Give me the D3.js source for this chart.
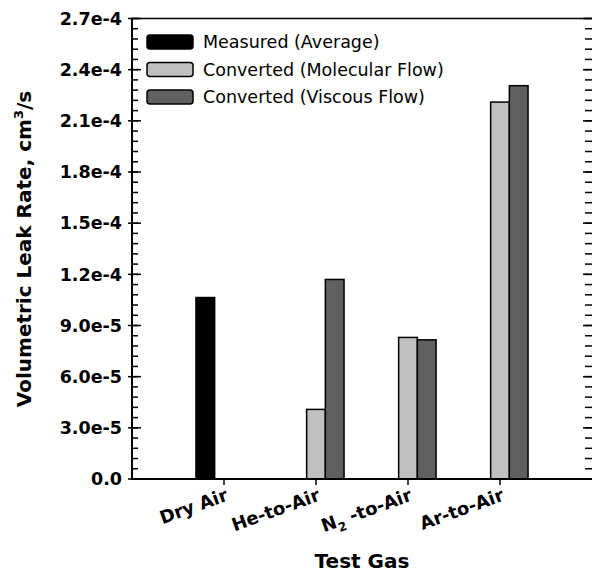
<!DOCTYPE html>
<html><head><meta charset="utf-8">
<script src="https://cdn.jsdelivr.net/npm/d3@7"></script>
<style>body{margin:0;background:#fff}svg{display:block}</style>
</head><body>
<svg id="c" width="592" height="572"></svg>
<script>
const categories = ["Dry Air", "He-to-Air", "N2-to-Air", "Ar-to-Air"];
const seriesNames = ["Measured (Average)", "Converted (Molecular Flow)", "Converted (Viscous Flow)"];
const measured  = [1.064e-4, null, null, null];
const molecular = [null, 4.08e-5, 8.30e-5, 2.210e-4];
const viscous   = [null, 1.170e-4, 8.16e-5, 2.306e-4];
const yTicks = [0, 3e-5, 6e-5, 9e-5, 1.2e-4, 1.5e-4, 1.8e-4, 2.1e-4, 2.4e-4, 2.7e-4];
const yTickLabels = ["0.0","3.0e-5","6.0e-5","9.0e-5","1.2e-4","1.5e-4","1.8e-4","2.1e-4","2.4e-4","2.7e-4"];
const colors = ["#000000", "#c0c0c0", "#606060"];
const series = [measured, molecular, viscous];

const L = 132, R = 592, T = 18.5, B = 479;
const svg = d3.select("#c");
const font = "Tahoma, 'DejaVu Sans', Verdana, sans-serif";

const x = d3.scaleLinear().domain([0, 5]).range([L, R]);
const y = d3.scaleLinear().domain([0, 2.7e-4]).range([B, T]);
const slot = 18.7;

// bars
series.forEach((vals, s) => {
  svg.append("g").selectAll("rect").data(vals.map((v, i) => ({v, i})).filter(d => d.v != null))
    .join("rect")
    .attr("x", d => x(d.i + 1) + (s - 1.5) * slot)
    .attr("width", slot)
    .attr("y", d => y(d.v))
    .attr("height", d => B - y(d.v))
    .attr("fill", colors[s])
    .attr("stroke", "#000").attr("stroke-width", 1.5);
});

// left axis
const minor = d3.range(0, 2.7e-4 + 1e-9, 6e-6);
const gl = svg.append("g").attr("transform", `translate(${L},0)`);
gl.selectAll("line.mn").data(minor).join("line")
  .attr("x1", 0).attr("x2", 6).attr("y1", d => y(d)).attr("y2", d => y(d))
  .attr("stroke", "#000").attr("stroke-width", 1.5);
gl.selectAll("line.mj").data(yTicks).join("line")
  .attr("x1", -4).attr("x2", 9).attr("y1", d => y(d)).attr("y2", d => y(d))
  .attr("stroke", "#000").attr("stroke-width", 1.5);
gl.selectAll("text").data(yTicks).join("text")
  .attr("x", -10).attr("y", d => y(d)).attr("dy", "0.36em")
  .attr("text-anchor", "end").attr("font-family", font).attr("font-weight", "bold")
  .attr("font-size", 17.5).text((d, i) => yTickLabels[i]);

// right ticks
const gr = svg.append("g").attr("transform", `translate(${R},0)`);
gr.selectAll("line.mn").data(minor).join("line")
  .attr("x1", 0).attr("x2", -7).attr("y1", d => y(d)).attr("y2", d => y(d))
  .attr("stroke", "#000").attr("stroke-width", 1.5);
gr.selectAll("line.mj").data(yTicks).join("line")
  .attr("x1", 0).attr("x2", -9).attr("y1", d => y(d)).attr("y2", d => y(d))
  .attr("stroke", "#000").attr("stroke-width", 1.5);

// frame lines
svg.append("line").attr("x1", L).attr("x2", L).attr("y1", T).attr("y2", B + 1).attr("stroke", "#000").attr("stroke-width", 2);
svg.append("line").attr("x1", L - 1).attr("x2", R).attr("y1", B).attr("y2", B).attr("stroke", "#000").attr("stroke-width", 2);
svg.append("line").attr("x1", L - 1).attr("x2", R).attr("y1", T).attr("y2", T).attr("stroke", "#000").attr("stroke-width", 1.5);

// x ticks and labels
const gx = svg.append("g");
categories.forEach((c, i) => {
  const cx = x(i + 1);
  gx.append("line").attr("x1", cx).attr("x2", cx).attr("y1", B).attr("y2", B + 6)
    .attr("stroke", "#000").attr("stroke-width", 1.5);
  const t = gx.append("text")
    .attr("transform", `translate(${cx + 5},${B + 21}) rotate(-20)`)
    .attr("text-anchor", "end").attr("font-family", font).attr("font-weight", "bold")
    .attr("font-size", 18);
  if (c === "N2-to-Air") {
    t.append("tspan").text("N");
    t.append("tspan").attr("font-size", 12).attr("dy", 5).text("2");
    t.append("tspan").attr("dy", -5).text(" -to-Air");
  } else t.text(c);
});

// axis titles
svg.append("text").attr("x", (L + R) / 2).attr("y", 568).attr("text-anchor", "middle")
  .attr("font-family", font).attr("font-weight", "bold").attr("font-size", 20).text("Test Gas");
const yt = svg.append("text").attr("transform", `translate(31,249) rotate(-90)`)
  .attr("text-anchor", "middle").attr("font-family", font).attr("font-weight", "bold").attr("font-size", 20);
yt.append("tspan").text("Volumetric Leak Rate, cm");
yt.append("tspan").attr("font-size", 13).attr("dy", -8).text("3");
yt.append("tspan").attr("dy", 8).text("/s");

// legend
const lg = svg.append("g");
seriesNames.forEach((n, i) => {
  const cy = 42 + i * 27.5;
  lg.append("rect").attr("x", 147).attr("y", cy - 7).attr("width", 46).attr("height", 14)
    .attr("rx", 3).attr("fill", colors[i]).attr("stroke", "#000").attr("stroke-width", 1.5);
  lg.append("text").attr("x", 203).attr("y", cy).attr("dy", "0.36em")
    .attr("font-family", font).attr("font-size", 17.5).text(n);
});
</script>
</body></html>
